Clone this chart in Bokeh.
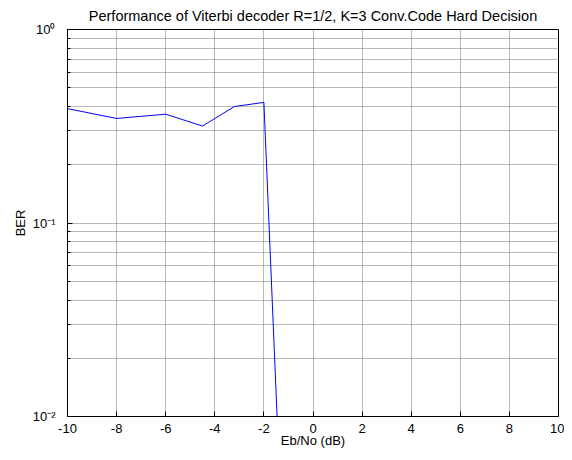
from bokeh.plotting import figure
from bokeh.models import FixedTicker, Range1d
from bokeh.embed import file_html
from bokeh.resources import INLINE

ebno_db = [-10, -8, -6, -4.5, -3.2, -2, -1.0]
ber = [0.39, 0.347, 0.365, 0.317, 0.40, 0.42, 4e-4]

x_ticks = [-10, -8, -6, -4, -2, 0, 2, 4, 6, 8, 10]
x_labels = {t: str(t) for t in x_ticks}
y_ticks = [0.01, 0.1, 1.0]
y_minor = [0.02, 0.03, 0.04, 0.05, 0.06, 0.07, 0.08, 0.09,
           0.2, 0.3, 0.4, 0.5, 0.6, 0.7, 0.8, 0.9]
y_labels = {0.01: "10\u207b\u00b2", 0.1: "10\u207b\u00b9", 1.0: "10\u2070"}

FONT = "Liberation Sans"

p = figure(width=564, height=452, output_backend="svg", toolbar_location=None,
           y_axis_type="log", x_range=Range1d(-10, 10), y_range=Range1d(0.01, 1.0),
           min_border_left=67, min_border_right=6, min_border_top=29, min_border_bottom=36,
           title="Performance of Viterbi decoder R=1/2, K=3 Conv.Code Hard Decision")

p.title.text_font = FONT
p.title.text_font_size = "14.5px"
p.title.text_font_style = "normal"
p.title.text_color = "black"
p.title.align = "center"
p.title.standoff = 11

p.line(ebno_db, ber, line_color="#0000ff", line_width=1)

p.xaxis.ticker = FixedTicker(ticks=x_ticks)
p.xaxis.major_label_overrides = x_labels
p.yaxis.ticker = FixedTicker(ticks=y_ticks, minor_ticks=y_minor)
p.yaxis.major_label_overrides = y_labels

for ax in (p.xaxis, p.yaxis):
    ax.major_tick_in = 5
    ax.major_tick_out = 0
    ax.minor_tick_in = 3
    ax.minor_tick_out = 0
    ax.axis_line_color = "black"
    ax.major_tick_line_color = "black"
    ax.minor_tick_line_color = "black"
    ax.major_label_text_font = FONT
    ax.major_label_text_font_size = "13px"
    ax.major_label_text_color = "black"
    ax.axis_label_text_font = FONT
    ax.axis_label_text_font_size = "13px"
    ax.axis_label_text_font_style = "normal"
    ax.axis_label_text_color = "black"
p.xaxis.minor_tick_line_color = None
p.xaxis.axis_label = "Eb/No (dB)"
p.yaxis.axis_label = "BER"
p.xaxis.major_label_standoff = 7
p.xaxis.axis_label_standoff = -3
p.yaxis.major_label_standoff = 12
p.yaxis.axis_label_standoff = 2

p.xgrid.grid_line_color = "#707070"
p.ygrid.grid_line_color = "#707070"
p.ygrid.minor_grid_line_color = "#707070"
p.xgrid.grid_line_dash = "1 1"
p.ygrid.grid_line_dash = "1 1"
p.ygrid.minor_grid_line_dash = "1 1"

p.outline_line_color = "black"
p.outline_line_width = 1
p.outline_line_alpha = 1.0
p.background_fill_color = "white"
p.border_fill_color = "white"

open("out.html", "w").write(file_html(p, INLINE))
